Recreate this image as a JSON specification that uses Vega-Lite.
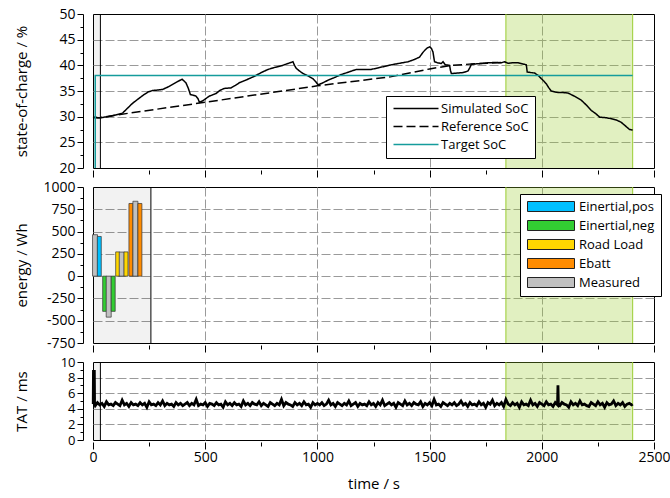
{
"$schema": "https://vega.github.io/schema/vega-lite/v6.json",
"background": "white",
"padding": {"left": 13, "top": 6, "right": 5, "bottom": 5},
"bounds": "flush",
"spacing": 19,
"datasets": {
"phase": [{"start": 1840, "end": 2405}],
"initShort": [{"start": 0, "end": 33}],
"initEnergy": [{"start": 0, "end": 258}],
"soc": [
{"series":"Simulated SoC","t":0,"v":30.0},{"series":"Simulated SoC","t":20,"v":29.8},{"series":"Simulated SoC","t":36,"v":29.8},{"series":"Simulated SoC","t":80,"v":30.1},{"series":"Simulated SoC","t":132,"v":30.7},{"series":"Simulated SoC","t":155,"v":31.7},{"series":"Simulated SoC","t":176,"v":32.6},{"series":"Simulated SoC","t":200,"v":33.4},{"series":"Simulated SoC","t":221,"v":34.1},{"series":"Simulated SoC","t":245,"v":34.8},{"series":"Simulated SoC","t":266,"v":35.1},{"series":"Simulated SoC","t":290,"v":35.2},{"series":"Simulated SoC","t":310,"v":35.3},{"series":"Simulated SoC","t":335,"v":35.8},{"series":"Simulated SoC","t":355,"v":36.3},{"series":"Simulated SoC","t":380,"v":36.9},{"series":"Simulated SoC","t":397,"v":37.3},{"series":"Simulated SoC","t":414,"v":36.6},{"series":"Simulated SoC","t":425,"v":35.5},{"series":"Simulated SoC","t":434,"v":34.3},{"series":"Simulated SoC","t":445,"v":34.2},{"series":"Simulated SoC","t":459,"v":34.0},{"series":"Simulated SoC","t":468,"v":33.5},{"series":"Simulated SoC","t":474,"v":32.8},{"series":"Simulated SoC","t":485,"v":33.0},{"series":"Simulated SoC","t":496,"v":33.3},{"series":"Simulated SoC","t":518,"v":34.0},{"series":"Simulated SoC","t":530,"v":34.2},{"series":"Simulated SoC","t":548,"v":34.5},{"series":"Simulated SoC","t":565,"v":35.1},{"series":"Simulated SoC","t":585,"v":35.5},{"series":"Simulated SoC","t":615,"v":35.6},{"series":"Simulated SoC","t":635,"v":36.1},{"series":"Simulated SoC","t":652,"v":36.6},{"series":"Simulated SoC","t":680,"v":37.1},{"series":"Simulated SoC","t":721,"v":37.9},{"series":"Simulated SoC","t":750,"v":38.6},{"series":"Simulated SoC","t":780,"v":39.2},{"series":"Simulated SoC","t":810,"v":39.6},{"series":"Simulated SoC","t":839,"v":39.9},{"series":"Simulated SoC","t":865,"v":40.3},{"series":"Simulated SoC","t":891,"v":40.7},{"series":"Simulated SoC","t":898,"v":40.0},{"series":"Simulated SoC","t":906,"v":39.4},{"series":"Simulated SoC","t":920,"v":38.9},{"series":"Simulated SoC","t":936,"v":38.4},{"series":"Simulated SoC","t":960,"v":37.9},{"series":"Simulated SoC","t":980,"v":37.4},{"series":"Simulated SoC","t":993,"v":36.8},{"series":"Simulated SoC","t":1003,"v":36.2},{"series":"Simulated SoC","t":1020,"v":36.5},{"series":"Simulated SoC","t":1047,"v":37.1},{"series":"Simulated SoC","t":1075,"v":37.6},{"series":"Simulated SoC","t":1106,"v":38.2},{"series":"Simulated SoC","t":1140,"v":38.7},{"series":"Simulated SoC","t":1173,"v":39.2},{"series":"Simulated SoC","t":1205,"v":39.2},{"series":"Simulated SoC","t":1240,"v":39.2},{"series":"Simulated SoC","t":1270,"v":39.5},{"series":"Simulated SoC","t":1300,"v":39.8},{"series":"Simulated SoC","t":1330,"v":40.1},{"series":"Simulated SoC","t":1360,"v":40.35},{"series":"Simulated SoC","t":1404,"v":40.7},{"series":"Simulated SoC","t":1430,"v":41.1},{"series":"Simulated SoC","t":1455,"v":41.6},{"series":"Simulated SoC","t":1470,"v":42.5},{"series":"Simulated SoC","t":1480,"v":43.0},{"series":"Simulated SoC","t":1490,"v":43.4},{"series":"Simulated SoC","t":1500,"v":43.6},{"series":"Simulated SoC","t":1508,"v":43.3},{"series":"Simulated SoC","t":1515,"v":42.6},{"series":"Simulated SoC","t":1522,"v":40.7},{"series":"Simulated SoC","t":1535,"v":40.5},{"series":"Simulated SoC","t":1552,"v":40.35},{"series":"Simulated SoC","t":1560,"v":40.7},{"series":"Simulated SoC","t":1570,"v":40.1},{"series":"Simulated SoC","t":1589,"v":40.0},{"series":"Simulated SoC","t":1593,"v":39.0},{"series":"Simulated SoC","t":1597,"v":38.4},{"series":"Simulated SoC","t":1627,"v":38.5},{"series":"Simulated SoC","t":1650,"v":38.6},{"series":"Simulated SoC","t":1671,"v":38.9},{"series":"Simulated SoC","t":1680,"v":39.6},{"series":"Simulated SoC","t":1686,"v":40.2},{"series":"Simulated SoC","t":1710,"v":40.3},{"series":"Simulated SoC","t":1730,"v":40.35},{"series":"Simulated SoC","t":1760,"v":40.5},{"series":"Simulated SoC","t":1790,"v":40.55},{"series":"Simulated SoC","t":1820,"v":40.5},{"series":"Simulated SoC","t":1834,"v":40.7},{"series":"Simulated SoC","t":1849,"v":40.4},{"series":"Simulated SoC","t":1870,"v":40.5},{"series":"Simulated SoC","t":1894,"v":40.5},{"series":"Simulated SoC","t":1923,"v":40.2},{"series":"Simulated SoC","t":1931,"v":40.1},{"series":"Simulated SoC","t":1935,"v":38.7},{"series":"Simulated SoC","t":1950,"v":38.6},{"series":"Simulated SoC","t":1968,"v":38.5},{"series":"Simulated SoC","t":1985,"v":38.0},{"series":"Simulated SoC","t":1998,"v":37.4},{"series":"Simulated SoC","t":2010,"v":36.9},{"series":"Simulated SoC","t":2020,"v":36.4},{"series":"Simulated SoC","t":2030,"v":35.7},{"series":"Simulated SoC","t":2042,"v":35.0},{"series":"Simulated SoC","t":2060,"v":34.8},{"series":"Simulated SoC","t":2072,"v":34.7},{"series":"Simulated SoC","t":2095,"v":34.7},{"series":"Simulated SoC","t":2117,"v":34.6},{"series":"Simulated SoC","t":2145,"v":34.0},{"series":"Simulated SoC","t":2176,"v":33.2},{"series":"Simulated SoC","t":2200,"v":32.2},{"series":"Simulated SoC","t":2221,"v":31.2},{"series":"Simulated SoC","t":2240,"v":30.6},{"series":"Simulated SoC","t":2258,"v":29.9},{"series":"Simulated SoC","t":2285,"v":29.8},{"series":"Simulated SoC","t":2310,"v":29.6},{"series":"Simulated SoC","t":2335,"v":29.3},{"series":"Simulated SoC","t":2354,"v":28.9},{"series":"Simulated SoC","t":2370,"v":28.3},{"series":"Simulated SoC","t":2391,"v":27.5},{"series":"Simulated SoC","t":2405,"v":27.4},
{"series":"Reference SoC","t":0,"v":29.8},{"series":"Reference SoC","t":30,"v":29.8},{"series":"Reference SoC","t":100,"v":30.3},{"series":"Reference SoC","t":500,"v":32.8},{"series":"Reference SoC","t":1000,"v":36.0},{"series":"Reference SoC","t":1330,"v":37.8},{"series":"Reference SoC","t":1500,"v":39.3},{"series":"Reference SoC","t":1600,"v":40.0},{"series":"Reference SoC","t":1700,"v":40.3},{"series":"Reference SoC","t":1840,"v":40.6},
{"series":"Target SoC","t":10,"v":20},{"series":"Target SoC","t":10,"v":38},{"series":"Target SoC","t":2405,"v":38}
],
"energy": [
{"bar":"Measured","t":9,"e":465},{"bar":"Einertial,pos","t":28,"e":445},
{"bar":"Einertial,neg","t":52,"e":-395},{"bar":"Measured","t":70,"e":-460},{"bar":"Einertial,neg","t":90,"e":-395},
{"bar":"Road Load","t":110,"e":272},{"bar":"Measured","t":128,"e":270},{"bar":"Road Load","t":147,"e":272},
{"bar":"Ebatt","t":169,"e":815},{"bar":"Measured","t":189,"e":840},{"bar":"Ebatt","t":209,"e":815}
],
"tat": [
{"t":1,"v":4.6},{"t":2,"v":8.8},{"t":6,"v":8.8},{"t":7,"v":4.6},
{"t":10,"v":4.4},{"t":20,"v":4.8},{"t":30,"v":4.5},{"t":40,"v":4.7},{"t":50,"v":4.3},{"t":60,"v":4.9},{"t":70,"v":4.5},{"t":80,"v":4.6},{"t":90,"v":4.4},{"t":100,"v":4.8},{"t":110,"v":4.6},{"t":120,"v":4.4},{"t":130,"v":5.1},{"t":140,"v":4.5},{"t":150,"v":4.7},{"t":160,"v":4.3},{"t":170,"v":4.8},{"t":180,"v":4.5},{"t":190,"v":4.6},{"t":200,"v":4.4},
{"t":210,"v":4.8},{"t":220,"v":4.5},{"t":230,"v":4.7},{"t":240,"v":4.2},{"t":250,"v":4.9},{"t":260,"v":4.5},{"t":270,"v":4.6},{"t":280,"v":4.4},{"t":290,"v":4.8},{"t":300,"v":4.5},{"t":310,"v":5.0},{"t":320,"v":4.4},{"t":330,"v":4.7},{"t":340,"v":4.5},{"t":350,"v":4.6},{"t":360,"v":4.3},{"t":370,"v":4.8},{"t":380,"v":4.5},{"t":390,"v":4.7},{"t":400,"v":4.4},
{"t":410,"v":4.6},{"t":420,"v":4.8},{"t":430,"v":4.4},{"t":440,"v":4.7},{"t":450,"v":4.5},{"t":460,"v":5.2},{"t":470,"v":4.4},{"t":480,"v":4.6},{"t":490,"v":4.5},{"t":500,"v":4.8},{"t":510,"v":4.3},{"t":520,"v":4.7},{"t":530,"v":4.6},{"t":540,"v":4.4},{"t":550,"v":4.8},{"t":560,"v":4.5},{"t":570,"v":4.6},{"t":580,"v":4.2},{"t":590,"v":4.9},{"t":600,"v":4.5},
{"t":610,"v":4.7},{"t":620,"v":4.4},{"t":630,"v":4.8},{"t":640,"v":4.5},{"t":650,"v":4.6},{"t":660,"v":4.3},{"t":670,"v":5.0},{"t":680,"v":4.5},{"t":690,"v":4.7},{"t":700,"v":4.4},{"t":710,"v":4.8},{"t":720,"v":4.6},{"t":730,"v":4.5},{"t":740,"v":4.9},{"t":750,"v":4.4},{"t":760,"v":4.7},{"t":770,"v":4.5},{"t":780,"v":4.3},{"t":790,"v":4.8},{"t":800,"v":4.6},
{"t":810,"v":4.4},{"t":820,"v":4.7},{"t":830,"v":4.5},{"t":840,"v":5.2},{"t":850,"v":4.4},{"t":860,"v":4.8},{"t":870,"v":4.6},{"t":880,"v":4.5},{"t":890,"v":4.3},{"t":900,"v":4.8},{"t":910,"v":4.5},{"t":920,"v":4.7},{"t":930,"v":4.4},{"t":940,"v":4.9},{"t":950,"v":4.5},{"t":960,"v":4.6},{"t":970,"v":4.2},{"t":980,"v":4.8},{"t":990,"v":4.5},{"t":1000,"v":4.7},
{"t":1010,"v":4.5},{"t":1020,"v":4.8},{"t":1030,"v":4.4},{"t":1040,"v":4.6},{"t":1050,"v":5.1},{"t":1060,"v":4.5},{"t":1070,"v":4.7},{"t":1080,"v":4.3},{"t":1090,"v":4.8},{"t":1100,"v":4.6},{"t":1110,"v":4.4},{"t":1120,"v":4.7},{"t":1130,"v":4.5},{"t":1140,"v":5.0},{"t":1150,"v":4.4},{"t":1160,"v":4.6},{"t":1170,"v":4.8},{"t":1180,"v":4.3},{"t":1190,"v":4.7},{"t":1200,"v":4.5},
{"t":1210,"v":4.6},{"t":1220,"v":4.4},{"t":1230,"v":4.9},{"t":1240,"v":4.5},{"t":1250,"v":4.7},{"t":1260,"v":4.3},{"t":1270,"v":4.8},{"t":1280,"v":4.5},{"t":1290,"v":5.1},{"t":1300,"v":4.4},{"t":1310,"v":4.6},{"t":1320,"v":4.8},{"t":1330,"v":4.5},{"t":1340,"v":4.7},{"t":1350,"v":4.2},{"t":1360,"v":4.8},{"t":1370,"v":4.6},{"t":1380,"v":4.4},{"t":1390,"v":5.0},{"t":1400,"v":4.5},
{"t":1410,"v":4.7},{"t":1420,"v":4.4},{"t":1430,"v":4.8},{"t":1440,"v":4.6},{"t":1450,"v":4.5},{"t":1460,"v":4.9},{"t":1470,"v":4.3},{"t":1480,"v":4.7},{"t":1490,"v":4.5},{"t":1500,"v":4.8},{"t":1510,"v":4.4},{"t":1520,"v":5.2},{"t":1530,"v":4.5},{"t":1540,"v":4.6},{"t":1550,"v":4.3},{"t":1560,"v":4.8},{"t":1570,"v":4.6},{"t":1580,"v":4.4},{"t":1590,"v":4.7},{"t":1600,"v":4.5},
{"t":1610,"v":4.8},{"t":1620,"v":4.4},{"t":1630,"v":4.6},{"t":1640,"v":5.0},{"t":1650,"v":4.5},{"t":1660,"v":4.7},{"t":1670,"v":4.3},{"t":1680,"v":4.8},{"t":1690,"v":4.5},{"t":1700,"v":4.6},{"t":1710,"v":4.4},{"t":1720,"v":4.9},{"t":1730,"v":4.5},{"t":1740,"v":4.7},{"t":1750,"v":4.2},{"t":1760,"v":4.8},{"t":1770,"v":4.6},{"t":1780,"v":5.1},{"t":1790,"v":4.4},{"t":1800,"v":4.7},
{"t":1810,"v":4.5},{"t":1820,"v":4.8},{"t":1830,"v":4.3},{"t":1840,"v":5.2},{"t":1850,"v":4.6},{"t":1860,"v":4.4},{"t":1870,"v":4.8},{"t":1880,"v":4.5},{"t":1890,"v":4.7},{"t":1900,"v":4.2},{"t":1910,"v":4.9},{"t":1920,"v":4.5},{"t":1930,"v":4.6},{"t":1940,"v":4.4},{"t":1950,"v":5.1},{"t":1960,"v":4.5},{"t":1970,"v":4.7},{"t":1980,"v":4.3},{"t":1990,"v":4.8},{"t":2000,"v":4.6},
{"t":2010,"v":4.4},{"t":2020,"v":4.9},{"t":2030,"v":4.5},{"t":2040,"v":4.6},{"t":2050,"v":4.3},{"t":2060,"v":4.8},{"t":2070,"v":4.5},{"t":2072,"v":7.0},{"t":2074,"v":4.5},{"t":2080,"v":4.4},{"t":2090,"v":4.8},{"t":2100,"v":4.6},{"t":2110,"v":4.5},{"t":2120,"v":4.2},{"t":2130,"v":4.9},{"t":2140,"v":4.5},{"t":2150,"v":4.7},{"t":2160,"v":4.4},{"t":2170,"v":5.0},{"t":2180,"v":4.5},{"t":2190,"v":4.6},{"t":2200,"v":4.4},
{"t":2210,"v":4.3},{"t":2220,"v":4.8},{"t":2230,"v":4.6},{"t":2240,"v":4.4},{"t":2250,"v":4.9},{"t":2260,"v":4.5},{"t":2270,"v":4.7},{"t":2280,"v":4.2},{"t":2290,"v":4.8},{"t":2300,"v":4.5},{"t":2310,"v":4.6},{"t":2320,"v":5.0},{"t":2330,"v":4.4},{"t":2340,"v":4.7},{"t":2350,"v":4.5},{"t":2360,"v":4.8},{"t":2370,"v":4.3},{"t":2380,"v":4.6},{"t":2390,"v":4.7},{"t":2400,"v":4.5},{"t":2405,"v":4.6}
]
},
"vconcat": [
{
"width": 561, "height": 154,
"layer": [
{"data": {"name": "phase"}, "mark": {"type": "rect", "fill": "#9acd32", "fillOpacity": 0.3},
 "encoding": {"x": {"field": "start", "type": "quantitative", "title": null, "scale": {"domain": [0, 2500], "nice": false, "padding": 0},
   "axis": {"values": [0,250,500,750,1000,1250,1500,1750,2000,2250,2500], "labels": false, "title": null, "domain": false, "offset": 2,
     "tickSize": {"condition": {"test": "datum.value % 500 === 0", "value": 7}, "value": 4},
     "gridOpacity": {"condition": {"test": "datum.value % 500 === 0 && datum.value > 0 && datum.value < 2500", "value": 1}, "value": 0}}},
  "x2": {"field": "end"}}},
{"data": {"name": "phase"}, "mark": {"type": "rule", "color": "#9acd32", "strokeWidth": 1}, "encoding": {"x": {"field": "start", "type": "quantitative", "title": null}}},
{"data": {"name": "phase"}, "mark": {"type": "rule", "color": "#9acd32", "strokeWidth": 1}, "encoding": {"x": {"field": "end", "type": "quantitative", "title": null}}},
{"data": {"name": "initShort"}, "mark": {"type": "rect", "fill": "black", "fillOpacity": 0.05}, "encoding": {"x": {"field": "start", "type": "quantitative", "title": null}, "x2": {"field": "end"}}},
{"data": {"name": "initShort"}, "mark": {"type": "rule", "color": "black", "strokeWidth": 1}, "encoding": {"x": {"field": "end", "type": "quantitative", "title": null}}},
{"data": {"name": "soc"}, "mark": {"type": "line", "strokeWidth": 1.5},
 "encoding": {
  "x": {"field": "t", "type": "quantitative", "title": null},
  "y": {"field": "v", "type": "quantitative", "scale": {"domain": [20, 50], "nice": false},
   "axis": {"title": "state-of-charge / %", "values": [20,22.5,25,27.5,30,32.5,35,37.5,40,42.5,45,47.5,50], "offset": 10, "labelPadding": 2, "labelOverlap": false,
     "labelExpr": "datum.value % 5 === 0 ? '' + datum.value : ''", "titleX": -57, "titleBaseline": "alphabetic",
     "tickSize": {"condition": {"test": "datum.value % 5 === 0", "value": 6}, "value": 3},
     "gridOpacity": {"condition": {"test": "datum.value % 5 === 0 && datum.value > 20 && datum.value < 50", "value": 1}, "value": 0}}},
  "color": {"field": "series", "type": "nominal", "scale": {"domain": ["Simulated SoC", "Reference SoC", "Target SoC"], "range": ["black", "black", "#159c9c"]},
   "legend": {"title": null, "orient": "none", "legendX": 293, "legendY": 82, "symbolType": "M-1,0H8", "symbolSize": 100, "symbolStrokeWidth": 1.5, "labelOffset": 36, "rowPadding": 4}},
  "strokeDash": {"field": "series", "type": "nominal", "scale": {"domain": ["Simulated SoC", "Reference SoC", "Target SoC"], "range": [[1,0],[9,4],[1,0]]},
   "legend": {"title": null, "orient": "none", "legendX": 293, "legendY": 82, "symbolType": "M-1,0H8", "symbolSize": 100, "symbolStrokeWidth": 1.5, "labelOffset": 36, "rowPadding": 4}}
 }}
]
},
{
"width": 561, "height": 156,
"layer": [
{"data": {"name": "phase"}, "mark": {"type": "rect", "fill": "#9acd32", "fillOpacity": 0.3},
 "encoding": {"x": {"field": "start", "type": "quantitative", "title": null, "scale": {"domain": [0, 2500], "nice": false, "padding": 0},
   "axis": {"values": [0,250,500,750,1000,1250,1500,1750,2000,2250,2500], "labels": false, "title": null, "domain": false, "offset": 2,
     "tickSize": {"condition": {"test": "datum.value % 500 === 0", "value": 7}, "value": 4},
     "gridOpacity": {"condition": {"test": "datum.value % 500 === 0 && datum.value > 0 && datum.value < 2500", "value": 1}, "value": 0}}},
  "x2": {"field": "end"}}},
{"data": {"name": "phase"}, "mark": {"type": "rule", "color": "#9acd32", "strokeWidth": 1}, "encoding": {"x": {"field": "start", "type": "quantitative", "title": null}}},
{"data": {"name": "phase"}, "mark": {"type": "rule", "color": "#9acd32", "strokeWidth": 1}, "encoding": {"x": {"field": "end", "type": "quantitative", "title": null}}},
{"data": {"name": "initEnergy"}, "mark": {"type": "rect", "fill": "black", "fillOpacity": 0.05}, "encoding": {"x": {"field": "start", "type": "quantitative", "title": null}, "x2": {"field": "end"}}},
{"data": {"name": "initEnergy"}, "mark": {"type": "rule", "color": "black", "strokeWidth": 1}, "encoding": {"x": {"field": "end", "type": "quantitative", "title": null}}},
{"data": {"name": "energy"},
 "mark": {"type": "bar", "orient": "vertical", "stroke": "#333333", "strokeWidth": 0.7},
 "encoding": {
  "x": {"field": "t", "type": "quantitative", "title": null},
  "y": {"field": "e", "type": "quantitative", "scale": {"domain": [-750, 1000], "nice": false},
   "axis": {"title": "energy / Wh", "values": [-750,-625,-500,-375,-250,-125,0,125,250,375,500,625,750,875,1000], "offset": 10, "labelPadding": 2, "labelOverlap": false,
     "labelExpr": "datum.value % 250 === 0 ? '' + datum.value : ''", "titleX": -57, "titleBaseline": "alphabetic",
     "tickSize": {"condition": {"test": "datum.value % 250 === 0", "value": 6}, "value": 3},
     "gridOpacity": {"condition": {"test": "datum.value % 250 === 0 && datum.value > -750 && datum.value < 1000", "value": 1}, "value": 0}}},
  "size": {"condition": {"test": "datum.bar === 'Measured'", "value": 5}, "value": 4},
  "color": {"field": "bar", "type": "nominal", "scale": {"domain": ["Einertial,pos", "Einertial,neg", "Road Load", "Ebatt", "Measured"], "range": ["#00bfff", "#32cd32", "#ffd700", "#ff8c00", "#c0c0c0"]},
   "legend": {"title": null, "orient": "none", "legendX": 427, "legendY": 7, "symbolType": "M-1,-1H8.4V1H-1Z", "symbolSize": 100, "symbolStrokeColor": "#222222", "symbolStrokeWidth": 1, "labelOffset": 40, "rowPadding": 4, "symbolOpacity": 1}}
 }}
]
},
{
"width": 561, "height": 78,
"layer": [
{"data": {"name": "phase"}, "mark": {"type": "rect", "fill": "#9acd32", "fillOpacity": 0.3},
 "encoding": {"x": {"field": "start", "type": "quantitative", "title": "time / s", "scale": {"domain": [0, 2500], "nice": false, "padding": 0},
   "axis": {"values": [0,250,500,750,1000,1250,1500,1750,2000,2250,2500], "title": "time / s", "domain": false, "offset": 2, "labelPadding": 1, "titlePadding": 12, "labelOverlap": false,
     "labelExpr": "datum.value % 500 === 0 ? '' + datum.value : ''",
     "tickSize": {"condition": {"test": "datum.value % 500 === 0", "value": 7}, "value": 4},
     "gridOpacity": {"condition": {"test": "datum.value % 500 === 0 && datum.value > 0 && datum.value < 2500", "value": 1}, "value": 0}}},
  "x2": {"field": "end"}}},
{"data": {"name": "phase"}, "mark": {"type": "rule", "color": "#9acd32", "strokeWidth": 1}, "encoding": {"x": {"field": "start", "type": "quantitative", "title": "time / s"}}},
{"data": {"name": "phase"}, "mark": {"type": "rule", "color": "#9acd32", "strokeWidth": 1}, "encoding": {"x": {"field": "end", "type": "quantitative", "title": "time / s"}}},
{"data": {"name": "initShort"}, "mark": {"type": "rect", "fill": "black", "fillOpacity": 0.05}, "encoding": {"x": {"field": "start", "type": "quantitative", "title": "time / s"}, "x2": {"field": "end"}}},
{"data": {"name": "initShort"}, "mark": {"type": "rule", "color": "black", "strokeWidth": 1}, "encoding": {"x": {"field": "end", "type": "quantitative", "title": "time / s"}}},
{"data": {"name": "tat"}, "mark": {"type": "line", "color": "black", "strokeWidth": 2.8},
 "encoding": {
  "x": {"field": "t", "type": "quantitative", "title": "time / s"},
  "y": {"field": "v", "type": "quantitative", "scale": {"domain": [0, 10], "nice": false},
   "axis": {"title": "TAT / ms", "values": [0,1,2,3,4,5,6,7,8,9,10], "offset": 10, "labelPadding": 2, "labelOverlap": false, "labelFontSize": 13,
     "labelExpr": "datum.value % 2 === 0 ? '' + datum.value : ''", "titleX": -57, "titleBaseline": "alphabetic",
     "tickSize": {"condition": {"test": "datum.value % 2 === 0", "value": 6}, "value": 3},
     "gridOpacity": {"condition": {"test": "datum.value % 2 === 0 && datum.value > 0 && datum.value < 10", "value": 1}, "value": 0}}}
 }}
]
}
],
"resolve": {"scale": {"x": "independent", "y": "independent", "color": "independent", "strokeDash": "independent"}, "legend": {"color": "independent", "strokeDash": "independent"}},
"config": {
 "font": "Open Sans",
 "view": {"stroke": "black", "strokeWidth": 1},
 "axis": {"labelFont": "Open Sans", "titleFont": "Open Sans", "labelFontSize": 14, "titleFontSize": 15, "titleFontWeight": "normal", "labelColor": "black", "titleColor": "black", "tickColor": "black", "domainColor": "black", "gridColor": "#9a9a9a", "gridDash": [9, 3], "gridWidth": 1, "labelOverlap": false, "labelFlush": false, "tickWidth": 1, "domainWidth": 1},
 "legend": {"labelFont": "Open Sans", "labelFontSize": 13, "labelColor": "black", "strokeColor": "black", "fillColor": "white", "padding": 6, "cornerRadius": 0}
}
}
